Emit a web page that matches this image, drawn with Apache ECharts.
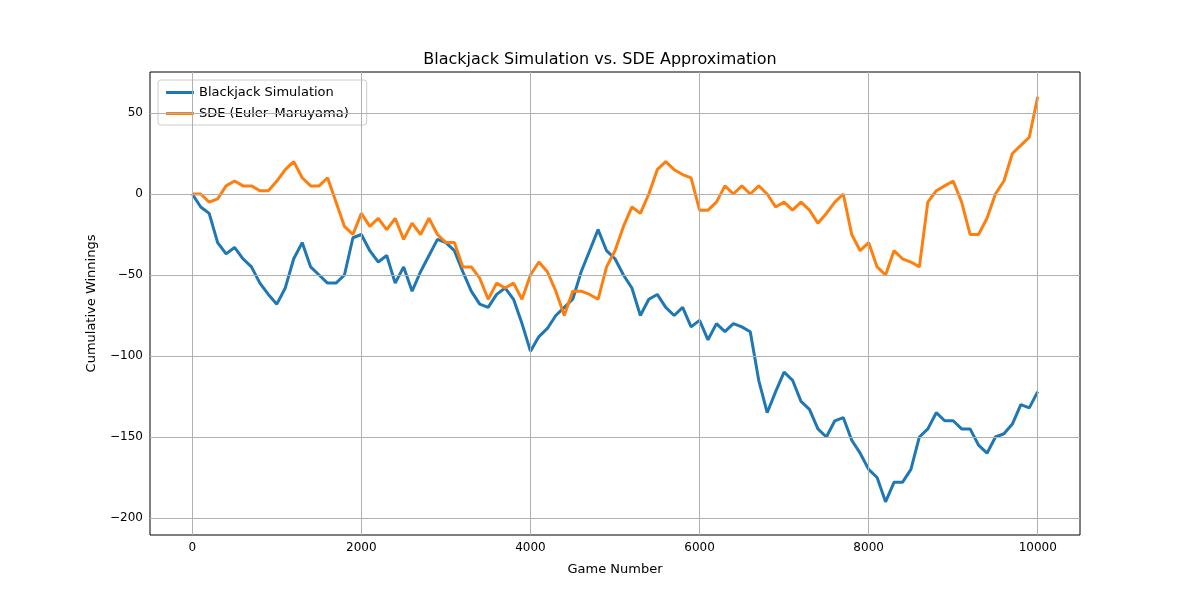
<!DOCTYPE html>
<html>
<head>
<meta charset="utf-8">
<script src="https://cdn.jsdelivr.net/npm/echarts@6/dist/echarts.min.js"></script>
<style>html,body{margin:0;padding:0;background:#fff}#main{width:1200px;height:600px}</style>
</head>
<body>
<div id="main"></div>
<script>
// games, sampled every 100
var games = [];
for (var g = 0; g <= 10000; g += 100) games.push(g);

var blackjack = [0,-8,-12,-30,-37,-33,-40,-45,-55,-62,-68,-58,-40,-30,-45,-50,-55,-55,-50,-27,
  -25,-35,-42,-38,-55,-45,-60,-48,-38,-28,-30,-35,-48,-60,-68,-70,-62,-58,-65,-80,
  -97,-88,-83,-75,-70,-65,-48,-35,-22,-35,-40,-50,-58,-75,-65,-62,-70,-75,-70,-82,
  -78,-90,-80,-85,-80,-82,-85,-115,-135,-122,-110,-115,-128,-133,-145,-150,-140,-138,-152,-160,
  -170,-175,-190,-178,-178,-170,-150,-145,-135,-140,-140,-145,-145,-155,-160,-150,-148,-142,-130,-132,-122];

var sde = [0,0,-5,-3,5,8,5,5,2,2,8,15,20,10,5,5,10,-5,-20,-25,
  -12,-20,-15,-22,-15,-28,-18,-25,-15,-25,-30,-30,-45,-45,-52,-65,-55,-58,-55,-65,
  -50,-42,-48,-60,-75,-60,-60,-62,-65,-45,-35,-20,-8,-12,0,15,20,15,12,10,
  -10,-10,-5,5,0,5,0,5,0,-8,-5,-10,-5,-10,-18,-12,-5,0,-25,-35,
  -30,-45,-50,-35,-40,-42,-45,-5,2,5,8,-5,-25,-25,-15,0,8,25,30,35,60];

var xTicks = [0, 2000, 4000, 6000, 8000, 10000];
var yTicks = [-200, -150, -100, -50, 0, 50];

function pairs(ys) { return games.map(function (x, i) { return [x, ys[i]]; }); }
function fmt(v) { return String(v).replace('-', '\u2212'); }

var gridLines = xTicks.map(function (v) { return { xAxis: v }; })
  .concat(yTicks.map(function (v) { return { yAxis: v }; }));

var myChart = echarts.init(document.getElementById('main'));
var option = {
  animation: false,
  title: {
    text: 'Blackjack Simulation vs. SDE Approximation',
    left: 'center', top: 47,
    textStyle: { fontFamily: 'DejaVu Sans', fontSize: 16, fontWeight: 'normal', color: '#000' }
  },
  legend: {
    left: 158, top: 80, orient: 'vertical',
    data: ['Blackjack Simulation', 'SDE (Euler\u2013Maruyama)'],
    itemWidth: 28, itemHeight: 3, itemGap: 8,
    icon: 'rect',
    borderColor: '#ccc', borderWidth: 1, borderRadius: 3, padding: [6, 18, 5, 8],
    textStyle: { fontFamily: 'DejaVu Sans', fontSize: 13, color: '#000' }
  },
  grid: { left: 150, right: 120, top: 72, bottom: 65, show: true, borderColor: '#000', borderWidth: 1 },
  xAxis: {
    type: 'value', min: -500, max: 10500,
    name: 'Game Number', nameLocation: 'middle', nameGap: 28,
    nameTextStyle: { fontFamily: 'DejaVu Sans', fontSize: 13, color: '#000' },
    axisLine: { show: false },
    axisTick: { show: true, customValues: xTicks, length: 4, lineStyle: { color: '#000' } },
    axisLabel: { customValues: xTicks, formatter: fmt, fontFamily: 'DejaVu Sans', fontSize: 12, color: '#000', margin: 7 },
    splitLine: { show: false }
  },
  yAxis: {
    type: 'value', min: -210.5, max: 75.3,
    name: 'Cumulative Winnings', nameLocation: 'middle', nameGap: 52,
    nameTextStyle: { fontFamily: 'DejaVu Sans', fontSize: 13, color: '#000' },
    axisLine: { show: false },
    axisTick: { show: true, customValues: yTicks, length: 4, lineStyle: { color: '#000' } },
    axisLabel: { customValues: yTicks, formatter: fmt, fontFamily: 'DejaVu Sans', fontSize: 12, color: '#000', margin: 7 },
    splitLine: { show: false }
  },
  series: [
    {
      name: 'grid', type: 'line', data: [], z: 1, silent: true,
      markLine: { symbol: 'none', silent: true, label: { show: false },
        lineStyle: { color: '#b0b0b0', width: 1, type: 'solid' }, data: gridLines }
    },
    {
      name: 'Blackjack Simulation', type: 'line', data: pairs(blackjack), z: 3,
      showSymbol: false, color: '#1f77b4', lineStyle: { width: 3 }
    },
    {
      name: 'SDE (Euler\u2013Maruyama)', type: 'line', data: pairs(sde), z: 4,
      showSymbol: false, color: '#ff7f0e', lineStyle: { width: 3 }
    }
  ]
};
myChart.setOption(option);
</script>
</body>
</html>
